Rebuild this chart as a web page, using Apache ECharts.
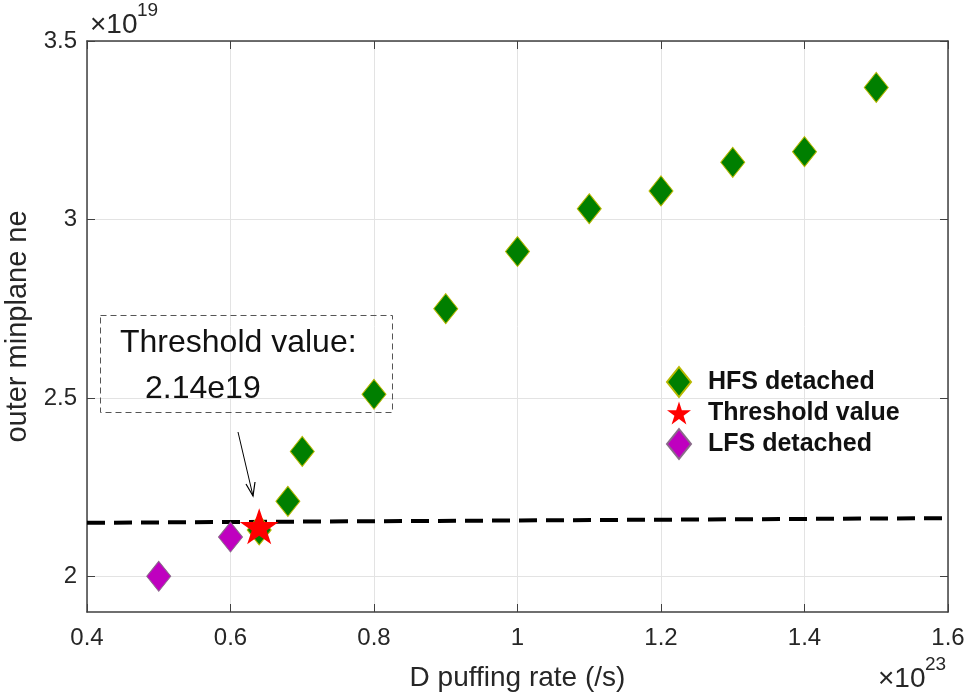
<!DOCTYPE html>
<html>
<head>
<meta charset="utf-8">
<script src="https://cdn.jsdelivr.net/npm/echarts@6/dist/echarts.min.js"></script>
<style>
  html, body { margin: 0; padding: 0; background: #fff; }
  #chart { width: 970px; height: 695px; }
</style>
</head>
<body>
<div id="chart"></div>
<script>
// D puffing rate (x1e23 /s) and outer midplane ne (x1e19)
const hfsX = [0.64, 0.68, 0.7, 0.8, 0.9, 1.0, 1.1, 1.2, 1.3, 1.4, 1.5]
const hfsY = [2.13, 2.21, 2.35, 2.51, 2.75, 2.91, 3.03, 3.08, 3.16, 3.19, 3.37]
const lfsX = [0.5, 0.6]
const lfsY = [2.0, 2.11]
const thresholdX = [0.64]
const thresholdY = [2.14]
const dashX = [0.4, 1.6]
const dashY = [2.15, 2.163]
const xTicks = [0.4, 0.6, 0.8, 1, 1.2, 1.4, 1.6]
const yTicks = [2, 2.5, 3, 3.5]

const FONT = "'Liberation Sans', Arial, sans-serif"
const AXIS_COLOR = '#404040'
const TEXT_COLOR = '#262626'
const STAR = 'path://M50 0 L61.23 34.55 L97.55 34.55 L68.17 55.9 L79.39 90.45 L50 69.1 L20.61 90.45 L31.83 55.9 L2.45 34.55 L38.77 34.55 Z'

const zip = (xs, ys) => xs.map((x, i) => [x, ys[i]])

const chart = echarts.init(document.getElementById('chart'), null, { renderer: 'canvas' })

// shared axis look (matlab style box with inward ticks)
const baseX = {
  type: 'value', min: 0.4, max: 1.6, interval: 0.2,
  axisLine: { show: true, onZero: false, lineStyle: { color: AXIS_COLOR, width: 1.5 } },
  axisTick: { show: true, inside: true, length: 8, lineStyle: { color: AXIS_COLOR } }
}
const baseY = {
  type: 'value', min: 1.9, max: 3.5,
  axisLine: { show: true, onZero: false, lineStyle: { color: AXIS_COLOR, width: 1.5 } },
  axisTick: { show: true, inside: true, length: 8, customValues: yTicks, lineStyle: { color: AXIS_COLOR } }
}

// small helper for the "x10^n" exponent labels
const expLabel = (x, y, power) => [
  { type: 'text', style: { x: x, y: y, text: '×10', fontFamily: FONT, fontSize: 28, fill: TEXT_COLOR, verticalAlign: 'middle' } },
  { type: 'text', style: { x: x + 47, y: y - 14, text: power, fontFamily: FONT, fontSize: 19, fill: TEXT_COLOR, verticalAlign: 'middle' } }
]

chart.setOption({
  backgroundColor: '#fff',
  animation: false,
  grid: { left: 87, right: 22, top: 41, bottom: 83, outerBoundsMode: 'none', containLabel: false },
  xAxis: [
    Object.assign({}, baseX, {
      position: 'bottom',
      name: 'D puffing rate (/s)',
      nameLocation: 'middle',
      nameGap: 52,
      nameTextStyle: { fontFamily: FONT, fontSize: 28, color: TEXT_COLOR },
      splitLine: { show: true, lineStyle: { color: '#e3e3e3', width: 1 } },
      axisLabel: {
        fontFamily: FONT, fontSize: 24, color: TEXT_COLOR, margin: 14,
        showMinLabel: true, showMaxLabel: true,
        formatter: v => String(+v.toFixed(1))
      }
    }),
    Object.assign({}, baseX, {
      position: 'top',
      splitLine: { show: false },
      axisLabel: { show: false }
    })
  ],
  yAxis: [
    Object.assign({}, baseY, {
      position: 'left',
      name: 'outer minplane ne',
      nameLocation: 'middle',
      nameGap: 45,
      nameTextStyle: { fontFamily: FONT, fontSize: 29, color: TEXT_COLOR },
      splitLine: { show: true, lineStyle: { color: '#e3e3e3', width: 1 } },
      axisLabel: {
        fontFamily: FONT, fontSize: 24, color: TEXT_COLOR, margin: 10,
        customValues: yTicks,
        formatter: v => String(+v.toFixed(1))
      }
    }),
    Object.assign({}, baseY, {
      position: 'right',
      splitLine: { show: false },
      axisLabel: { show: false }
    })
  ],
  legend: {
    orient: 'vertical',
    left: 661,
    top: 361,
    itemWidth: 24,
    itemHeight: 30,
    itemGap: 2.5,
    data: ['HFS detached', 'Threshold value', 'LFS detached'],
    textStyle: { fontFamily: FONT, fontSize: 25, fontWeight: 'bold', color: '#111', padding: [0, 0, 0, 12] }
  },
  series: [
    {
      name: 'threshold line',
      type: 'line',
      data: zip(dashX, dashY),
      symbol: 'none',
      lineStyle: { color: '#000', width: 4, type: [18, 9] },
      z: 2
    },
    {
      name: 'HFS detached',
      type: 'scatter',
      data: zip(hfsX, hfsY),
      symbol: 'diamond',
      symbolSize: [24, 30],
      itemStyle: { color: '#007f00', borderColor: '#b8b800', borderWidth: 1, opacity: 1 },
      z: 3
    },
    {
      name: 'LFS detached',
      type: 'scatter',
      data: zip(lfsX, lfsY),
      symbol: 'diamond',
      symbolSize: [24, 30],
      itemStyle: { color: '#bf00bf', borderColor: '#8a6a8a', borderWidth: 1, opacity: 1 },
      z: 3
    },
    {
      name: 'Threshold value',
      type: 'scatter',
      data: zip(thresholdX, thresholdY),
      symbol: STAR,
      symbolSize: [39, 36],
      itemStyle: { color: '#ff0000', opacity: 1 },
      z: 4
    }
  ],
  graphic: [
    ...expLabel(90, 25, '19'),
    ...expLabel(878, 679, '23'),
    // annotation box
    {
      type: 'rect',
      shape: { x: 100.5, y: 315.5, width: 292, height: 97 },
      style: { fill: null, stroke: '#555', lineWidth: 1, lineDash: [6, 4] },
      z: 10
    },
    {
      type: 'text',
      style: { x: 120, y: 343, text: 'Threshold value:', fontFamily: FONT, fontSize: 32, fill: '#111', verticalAlign: 'middle' },
      z: 11
    },
    {
      type: 'text',
      style: { x: 145, y: 389, text: '2.14e19', fontFamily: FONT, fontSize: 32, fill: '#111', verticalAlign: 'middle' },
      z: 11
    },
    // arrow
    {
      type: 'line',
      shape: { x1: 238, y1: 432, x2: 253, y2: 496 },
      style: { stroke: '#000', lineWidth: 1 },
      z: 11
    },
    {
      type: 'polyline',
      shape: { points: [[246, 484], [253, 496], [255, 482]] },
      style: { stroke: '#000', lineWidth: 1.2, fill: null },
      z: 11
    }
  ]
})
</script>
</body>
</html>
